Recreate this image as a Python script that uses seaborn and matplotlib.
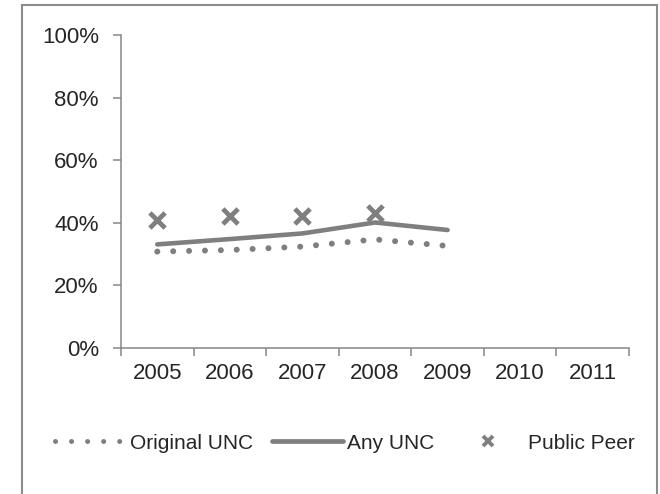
import numpy as np
import pandas as pd
import seaborn as sns
import matplotlib.pyplot as plt
from matplotlib.lines import Line2D
from matplotlib.patches import Rectangle

# dados
anos = ["2005", "2006", "2007", "2008", "2009", "2010", "2011"]
original_unc = [0.308, 0.313, 0.324, 0.347, 0.326, np.nan, np.nan]
any_unc = [0.331, 0.348, 0.366, 0.401, 0.377, np.nan, np.nan]
public_peer = [0.409, 0.423, 0.423, 0.430, np.nan, np.nan, np.nan]

cinza = "#7f7f7f"
eixo = "#868686"

sns.set_style("white")
plt.rcParams['font.family'] = ['Liberation Sans', 'DejaVu Sans']

pos = np.arange(len(anos))
df = pd.DataFrame({"pos": pos, "orig": original_unc, "any": any_unc, "peer": public_peer})

fig = plt.figure(figsize=(6.6, 4.94), dpi=100)
ax = fig.add_axes([121/660, 1 - 348/494, 508/660, 313/494])

# linha pontilhada
sns.lineplot(data=df, x="pos", y="orig", ax=ax, color=cinza, linewidth=4.3,
             linestyle=(0, (0.01, 2.65)), dash_capstyle="round")
# linha solida
sns.lineplot(data=df, x="pos", y="any", ax=ax, color=cinza, linewidth=3.3,
             solid_capstyle="round")
# marcadores
sns.scatterplot(data=df, x="pos", y="peer", ax=ax, color=cinza, marker="x",
                s=120, linewidth=3.4)

ax.set_xlim(-0.5, len(anos) - 0.5)
ax.set_ylim(0, 1)
ax.set_yticks(np.arange(0, 1.01, 0.2))
ax.set_yticklabels([f"{int(round(v*100))}%" for v in np.arange(0, 1.01, 0.2)])
ax.set_xticks(np.arange(-0.5, len(anos), 1.0))
ax.set_xticklabels([])
ax.set_xticks(pos, minor=True)
ax.set_xticklabels(anos, minor=True)
ax.tick_params(axis="x", which="major", length=6, width=1.1, color=eixo, direction="out", bottom=True)
ax.tick_params(axis="x", which="minor", length=0, pad=11, labelsize=16)
ax.tick_params(axis="y", length=6, width=1.1, color=eixo, direction="out", left=True, pad=10, labelsize=16)
ax.set_xlabel("")
ax.set_ylabel("")
for lado in ["top", "right"]:
    ax.spines[lado].set_visible(False)
for lado in ["left", "bottom"]:
    ax.spines[lado].set_color(eixo)
    ax.spines[lado].set_linewidth(1.1)
ax.grid(False)

# legenda
handles = [
    Line2D([], [], color=cinza, linewidth=3.6, linestyle=(0, (0.01, 3.2)), dash_capstyle="round"),
    Line2D([], [], color=cinza, linewidth=3.4),
    Line2D([], [], color=cinza, linestyle="none", marker="x", markersize=7, markeredgewidth=2.8),
]
fig.legend(handles, ["Original UNC", "Any UNC", "Public Peer"], loc="center",
           bbox_to_anchor=(345/660, 1 - 443/494), ncol=3, frameon=False, fontsize=15,
           handlelength=3.4, handletextpad=0.2, columnspacing=0.9)

# moldura da figura
fig.patches.append(Rectangle((22/660, -0.1), 635/660, 1.1 - 5/494, transform=fig.transFigure,
                             fill=False, edgecolor="#8c8c8c", linewidth=1.5))

fig.savefig("out.png", dpi=100)
